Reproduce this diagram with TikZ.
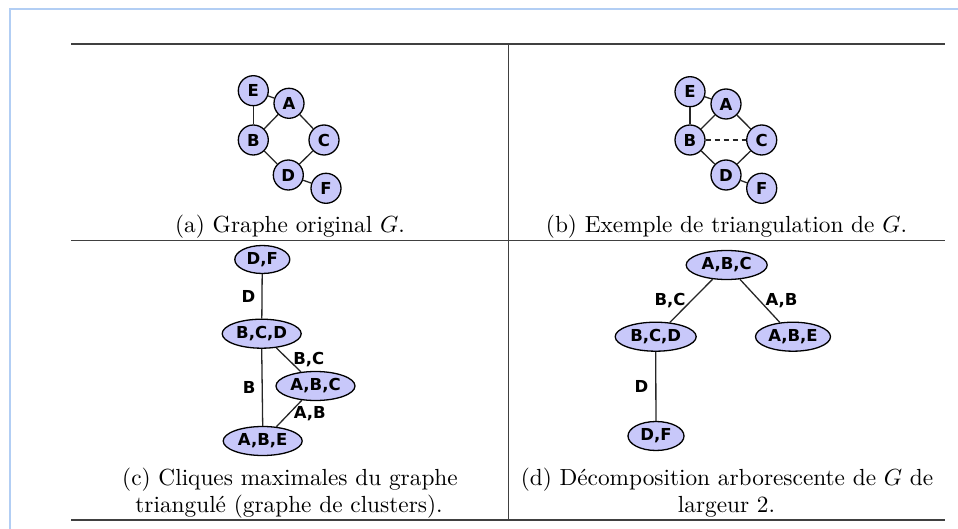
\documentclass[tikz,border=0pt]{standalone}
\usepackage{fontspec}
\usetikzlibrary{shapes.geometric}
\newfontfamily\nodefont{DejaVu Sans}
\definecolor{nodefill}{RGB}{200,200,250}
\definecolor{frameblue}{RGB}{178,206,244}
\tikzset{
  labfont/.style={font=\nodefont\bfseries\fontsize{16.5}{16.5}\selectfont},
  vert/.style={circle, draw=black, fill=nodefill, line width=1.3pt, minimum size=30pt, inner sep=0pt, labfont},
  clique/.style={ellipse, draw=black, fill=nodefill, line width=1.3pt, minimum width=79pt, minimum height=29pt, inner sep=0pt, labfont},
  edgelab/.style={labfont, inner sep=3pt},
  link/.style={line width=1.3pt, draw=black!85},
  caption/.style={anchor=base, inner sep=0pt},
  rulethick/.style={line width=1.6pt, draw=black!75},
  rulethin/.style={line width=0.8pt, draw=black!75}
}
\newcommand{\capt}[1]{\scalebox{2.33}{#1}}
\begin{document}
\begin{tikzpicture}[x=1pt,y=-1pt]
\useasboundingbox (0,0) rectangle (958,529);
% screenshot frame
\coordinate (fr1) at (958,9);
\coordinate (fr2) at (10,9);
\coordinate (fr3) at (10,529);
\draw[frameblue, line width=2pt] (fr1) -- (fr2) -- (fr3);
% table rules
\coordinate (tl) at (71,44);
\coordinate (tr) at (945,44);
\coordinate (ml) at (71,240);
\coordinate (mr) at (945,240);
\coordinate (bl) at (71,520);
\coordinate (br) at (945,520);
\coordinate (vt) at (508,44);
\coordinate (vb) at (508,520);
\draw[rulethick] (tl) -- (tr);
\draw[rulethin] (ml) -- (mr);
\draw[rulethick] (bl) -- (br);
\draw[rulethin] (vt) -- (vb);

% (a) original graph
\node[vert] (aE) at (253.3,90.7) {E};
\node[vert] (aA) at (289,103.3) {A};
\node[vert] (aB) at (253.3,140) {B};
\node[vert] (aC) at (324,140) {C};
\node[vert] (aD) at (288.3,175) {D};
\node[vert] (aF) at (326,188.3) {F};
\draw[link] (aE) -- (aA);
\draw[link] (aE) -- (aB);
\draw[link] (aA) -- (aB);
\draw[link] (aA) -- (aC);
\draw[link] (aB) -- (aD);
\draw[link] (aC) -- (aD);
\draw[link] (aD) -- (aF);
\node[caption] (capa) at (290,233) {\capt{(a) Graphe original $G$.}};

% (b) triangulation
\node[vert] (bE) at (690,91.7) {E};
\node[vert] (bA) at (726,104) {A};
\node[vert] (bB) at (690,140) {B};
\node[vert] (bC) at (761.7,140) {C};
\node[vert] (bD) at (726,175) {D};
\node[vert] (bF) at (761.7,188.3) {F};
\draw[link] (bE) -- (bA);
\draw[link] (bE) -- (bB);
\draw[link] (bA) -- (bB);
\draw[link] (bA) -- (bC);
\draw[link] (bB) -- (bD);
\draw[link] (bC) -- (bD);
\draw[link] (bD) -- (bF);
\draw[link, dash pattern=on 5pt off 4pt] (bB) -- (bC);
\node[caption] (capb) at (726.5,233) {\capt{(b) Exemple de triangulation de $G$.}};

% (c) cliques
\node[clique, minimum width=55pt, minimum height=28pt] (cDF) at (262.3,259.5) {D,F};
\node[clique] (cBCD) at (261.7,333.7) {B,C,D};
\node[clique] (cABC) at (315.5,386) {A,B,C};
\node[clique] (cABE) at (262.7,441) {A,B,E};
\draw[link] (cDF) -- node[edgelab, left=3pt] (lcD) {D} (cBCD);
\draw[link] (cBCD) -- node[edgelab, right=1pt] (lcBC) {B,C} (cABC);
\draw[link] (cBCD.south) -- node[edgelab, left=3pt] (lcB) {B} (cABE.north);
\draw[link] (cABC) -- node[edgelab, right=1pt] (lcAB) {A,B} (cABE);
\node[caption] (capc1) at (290,485) {\capt{(c) Cliques maximales du graphe}};
\node[caption] (capc2) at (289,512) {\capt{triangulé (graphe de clusters).}};

% (d) tree decomposition
\node[clique, minimum width=81pt] (dABC) at (726.7,265) {A,B,C};
\node[clique, minimum width=81pt] (dBCD) at (655.7,336.7) {B,C,D};
\node[clique, minimum width=75pt] (dABE) at (793,336.7) {A,B,E};
\node[clique, minimum width=56pt] (dDF) at (656,436) {D,F};
\draw[link] (dABC) -- node[edgelab, left=2pt] (ldBC) {B,C} (dBCD);
\draw[link] (dABC) -- node[edgelab, right=2pt] (ldAB) {A,B} (dABE);
\draw[link] (dBCD) -- node[edgelab, left=4pt] (ldD) {D} (dDF);
\node[caption] (capd1) at (727,485) {\capt{(d) Décomposition arborescente de $G$ de}};
\node[caption] (capd2) at (726.5,512) {\capt{largeur 2.}};
\end{tikzpicture}
\end{document}
